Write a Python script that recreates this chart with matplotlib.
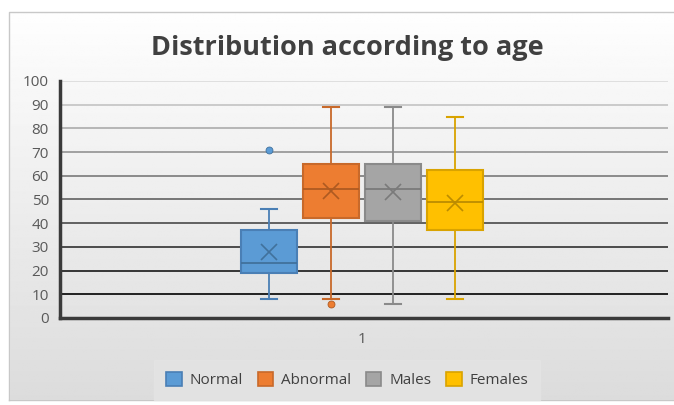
import numpy as np
import matplotlib
matplotlib.use("Agg")
import matplotlib.pyplot as plt
from matplotlib.patches import Rectangle, Patch

# age statistics per group
groups = ["Normal", "Abnormal", "Males", "Females"]
q1 = [19, 42, 41, 37]
median = [23, 54.5, 54.3, 49]
q3 = [37, 65, 65, 62.5]
mean = [28, 53.5, 53, 48.5]
whislo = [8, 8, 6, 8]
whishi = [46, 89, 89, 85]
fliers = [[71], [6], [], []]

fill = ["#5B9BD5", "#ED7D31", "#A5A5A5", "#FFC000"]
edge = ["#4A7FB5", "#C8692A", "#8A8A8A", "#D9A300"]
dark = ["#41719C", "#AE5A21", "#7A7A7A", "#BC8C00"]

plt.rcParams['font.family'] = ['Open Sans', 'DejaVu Sans']

fig = plt.figure(figsize=(6.74, 4.05), dpi=100)

# background gradient behind everything
bg = fig.add_axes([0, 0, 1, 1], zorder=-10)
grad = np.linspace(1.0, 0.86, 256)[:, None] * np.ones((1, 16))
bg.imshow(grad, aspect="auto", cmap="gray", vmin=0, vmax=1, extent=[0, 1, 0, 1])
bg.add_patch(Rectangle((0, 0), 0.014, 1, color="white"))
bg.add_patch(Rectangle((0, 0.97), 1, 0.03, color="white"))
bg.add_patch(Rectangle((0, 0), 1, 0.012, color="white"))
bg.plot([0.014, 0.014, 1.0], [0.012, 0.97, 0.97], color="#c8c8c8", lw=1)
bg.plot([0.014, 1.0], [0.012, 0.012], color="#c8c8c8", lw=1)
bg.set_xlim(0, 1)
bg.set_ylim(0, 1)
bg.axis("off")

ax = fig.add_axes([0.089, 0.215, 0.902, 0.585])
ax.patch.set_alpha(0)

# horizontal grid, fading from light grey at top to black at bottom
levels = np.arange(10, 101, 10)
for v in levels:
    g = 0.86 * (v - 10) / 90
    ax.axhline(v, color=(g, g, g), lw=1.2, zorder=0)

positions = [0.497 + (i - 1.5) * 0.102 for i in range(4)]
stats = []
for i, name in enumerate(groups):
    stats.append(dict(label=name, q1=q1[i], med=median[i], q3=q3[i],
                      mean=mean[i], whislo=whislo[i], whishi=whishi[i],
                      fliers=fliers[i]))

for i, s in enumerate(stats):
    ax.bxp([s], positions=[positions[i]], widths=0.092, capwidths=0.027,
           showmeans=True, patch_artist=True, manage_ticks=False,
           boxprops=dict(facecolor=fill[i], edgecolor=edge[i], lw=1.5),
           medianprops=dict(color=dark[i], lw=1.3),
           whiskerprops=dict(color=edge[i], lw=1.3),
           capprops=dict(color=edge[i], lw=1.5),
           meanprops=dict(marker="x", markersize=11, markeredgecolor=dark[i],
                          markeredgewidth=1.2),
           flierprops=dict(marker="o", markersize=5, markerfacecolor=fill[i],
                           markeredgecolor=dark[i], markeredgewidth=0.6))

ax.set_xlim(0, 1)
ax.set_ylim(0, 100)
ax.set_yticks(np.arange(0, 101, 10))
ax.set_xticks([0.497])
ax.set_xticklabels(["1"])
ax.tick_params(length=0, labelsize=11, labelcolor="#595959", pad=8)
ax.tick_params(axis="x", pad=10)
for side in ["top", "right"]:
    ax.spines[side].set_visible(False)
for side in ["left", "bottom"]:
    ax.spines[side].set_color("#3a3a3a")
    ax.spines[side].set_linewidth(2.5)

fig.text(0.515, 0.882, "Distribution according to age", ha="center",
         va="center", fontsize=19.5, fontweight="bold", color="#404040")

handles = [Patch(facecolor=fill[i], edgecolor=edge[i], lw=1.2, label=groups[i])
           for i in range(4)]
leg = fig.legend(handles=handles, loc="center", bbox_to_anchor=(0.515, 0.062),
                 ncol=4, frameon=True, fontsize=11, handlelength=1.0,
                 handleheight=1.0, handletextpad=0.5, columnspacing=1.0,
                 borderpad=0.8, fancybox=False)
leg.get_frame().set_facecolor("#e4e4e4")
leg.get_frame().set_edgecolor("#e4e4e4")
for t in leg.get_texts():
    t.set_color("#404040")

fig.savefig("out.png", dpi=100)
